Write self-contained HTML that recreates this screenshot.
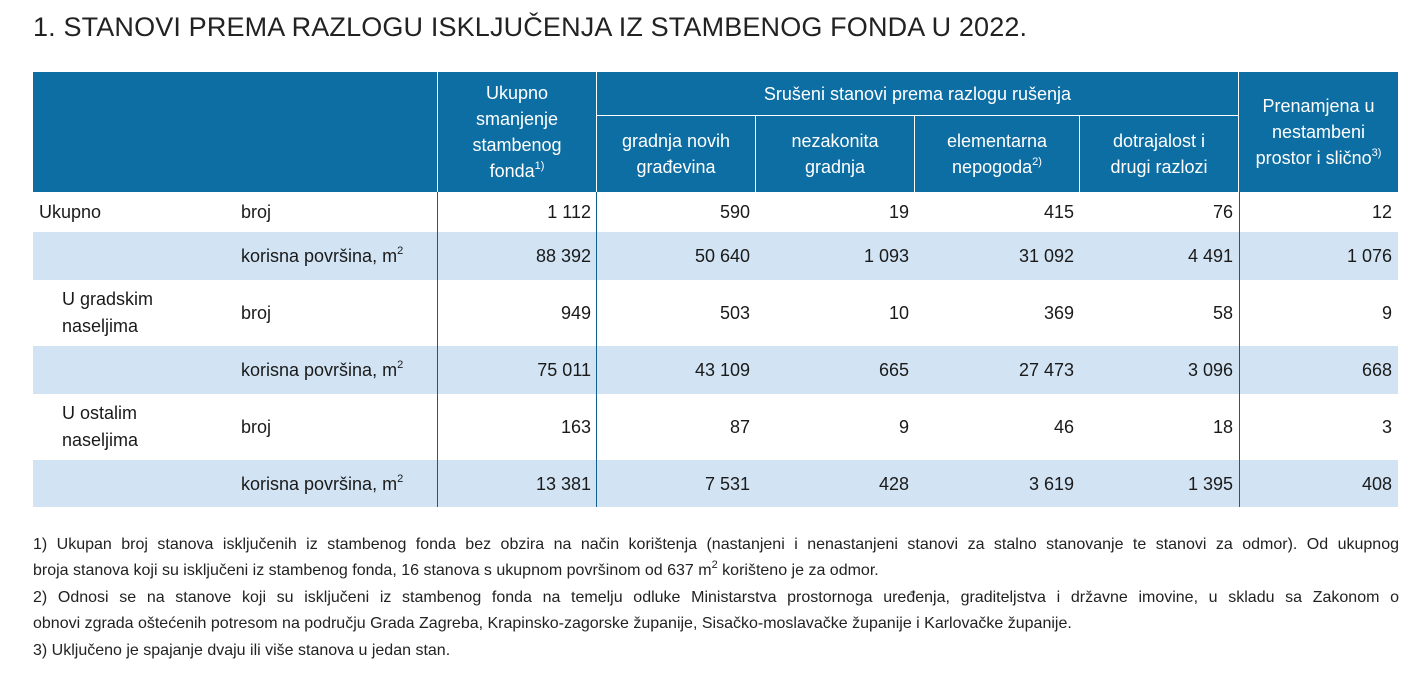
<!DOCTYPE html>
<html><head><meta charset="utf-8">
<style>
body{margin:0;width:1419px;height:693px;background:#fff;position:relative;overflow:hidden;font-family:"Liberation Sans",sans-serif;color:#1a1a1a}
.a{position:absolute;box-sizing:border-box}
.h{background:#0d6ea3;color:#fff;font-size:18px;line-height:26px;text-align:center;display:flex;align-items:center;justify-content:center}
.r{font-size:18px;line-height:22px}
.num{text-align:right}
.fn{position:absolute;left:33px;width:1366px;font-size:16px;line-height:26.5px;color:#222;white-space:nowrap}
.fn.j{text-align:justify;text-align-last:justify}
sup{font-size:11px;line-height:0;vertical-align:super;position:relative;top:-1px}
</style></head><body>
<div class="a" style="left:33px;top:12px;font-size:27px;letter-spacing:0.15px;color:#222;white-space:nowrap">1. STANOVI PREMA RAZLOGU ISKLJUČENJA IZ STAMBENOG FONDA U 2022.</div>

<div class="a h" style="left:33px;top:72px;width:404px;height:120px"></div>
<div class="a h" style="left:438px;top:72px;width:158px;height:120px"><div>Ukupno<br>smanjenje<br>stambenog<br>fonda<sup>1)</sup></div></div>
<div class="a h" style="left:597px;top:72px;width:641px;height:43px">Srušeni stanovi prema razlogu rušenja</div>
<div class="a h" style="left:597px;top:116px;width:158px;height:76px"><div>gradnja novih<br>građevina</div></div>
<div class="a h" style="left:756px;top:116px;width:158px;height:76px"><div>nezakonita<br>gradnja</div></div>
<div class="a h" style="left:915px;top:116px;width:164px;height:76px"><div>elementarna<br>nepogoda<sup>2)</sup></div></div>
<div class="a h" style="left:1080px;top:116px;width:158px;height:76px"><div>dotrajalost i<br>drugi razlozi</div></div>
<div class="a h" style="left:1239px;top:72px;width:159px;height:120px"><div>Prenamjena u<br>nestambeni<br>prostor i slično<sup>3)</sup></div></div>

<div class="a" style="left:33px;top:232px;width:1365px;height:48px;background:#d2e3f3"></div>
<div class="a" style="left:33px;top:346px;width:1365px;height:48px;background:#d2e3f3"></div>
<div class="a" style="left:33px;top:460px;width:1365px;height:47px;background:#d2e3f3"></div>
<div class="a" style="left:437px;top:192px;width:1px;height:315px;background:#0d5f8f"></div>
<div class="a" style="left:596px;top:192px;width:1px;height:315px;background:#0d5f8f"></div>
<div class="a" style="left:1239px;top:192px;width:1px;height:315px;background:#0d5f8f"></div>

<div id="body"></div>

<div class="fn j" style="top:532px">1) Ukupan broj stanova isključenih iz stambenog fonda bez obzira na način korištenja (nastanjeni i nenastanjeni stanovi za stalno stanovanje te stanovi za odmor). Od ukupnog</div>
<div class="fn" style="top:558px">broja stanova koji su isključeni iz stambenog fonda, 16 stanova s ukupnom površinom od 637 m<sup>2</sup> korišteno je za odmor.</div>
<div class="fn j" style="top:585px">2) Odnosi se na stanove koji su isključeni iz stambenog fonda na temelju odluke Ministarstva prostornoga uređenja, graditeljstva i državne imovine, u skladu sa Zakonom o</div>
<div class="fn" style="top:611px">obnovi zgrada oštećenih potresom na području Grada Zagreba, Krapinsko-zagorske županije, Sisačko-moslavačke županije i Karlovačke županije.</div>
<div class="fn" style="top:638px">3) Uključeno je spajanje dvaju ili više stanova u jedan stan.</div>

<script>
const groups=["Ukupno","U gradskim<br>naseljima","U ostalim<br>naseljima"];
const measures=["broj","korisna površina, m<sup>2</sup>"];
const values=[
["1 112","590","19","415","76","12"],
["88 392","50 640","1 093","31 092","4 491","1 076"],
["949","503","10","369","58","9"],
["75 011","43 109","665","27 473","3 096","668"],
["163","87","9","46","18","3"],
["13 381","7 531","428","3 619","1 395","408"]];
const rowTops=[192,232,280,346,394,460,507];
const colRight=[591,750,909,1074,1233,1392];
const body=document.getElementById('body');
values.forEach((row,i)=>{
  const top=rowTops[i],h=rowTops[i+1]-top;
  if(i%2===0){
    const g=document.createElement('div');
    g.className='a r';
    
    
    const grp=i/2;
    g.style.cssText=`left:${grp===0?39:62}px;top:${top}px;height:${h}px;display:flex;align-items:center;line-height:27px`;
    g.innerHTML=groups[grp];
    body.appendChild(g);
  }
  const m=document.createElement('div');
  m.className='a r';
  
  
  m.style.cssText=`left:241px;top:${top}px;height:${h}px;display:flex;align-items:center`;
  m.innerHTML='<span>'+measures[i%2]+'</span>';
  body.appendChild(m);
  row.forEach((v,j)=>{
    const c=document.createElement('div');
    c.className='a r num';
    
    
    c.style.cssText=`left:${colRight[j]-150}px;width:150px;top:${top}px;height:${h}px;display:flex;align-items:center;justify-content:flex-end`;
    c.textContent=v;
    body.appendChild(c);
  });
});
</script>
</body></html>
